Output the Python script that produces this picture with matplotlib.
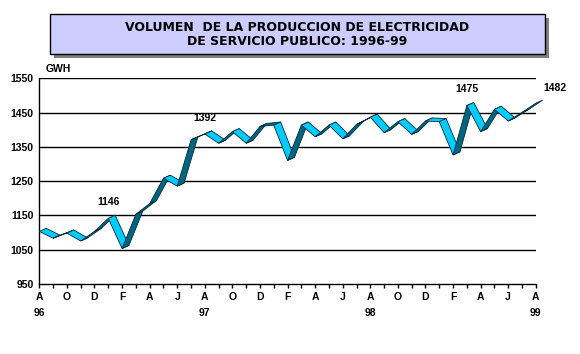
import matplotlib.pyplot as plt
from matplotlib.patches import Rectangle

# datos (GWh), agosto 1996 - agosto 1999
meses = ["A", "O", "D", "F", "A", "J"] * 3 + ["A"]
anios = ["96", "97", "98", "99"]
gwh = [1108, 1088, 1103, 1080, 1108, 1146, 1058, 1158, 1189, 1263, 1240, 1375,
       1392, 1365, 1399, 1365, 1414, 1418, 1315, 1418, 1384, 1418, 1378, 1420,
       1441, 1396, 1428, 1391, 1430, 1428, 1331, 1475, 1399, 1464, 1430, 1455,
       1482]
etiquetados = [5, 12, 31, 36]

plt.rcParams["font.family"] = ["Liberation Sans", "DejaVu Sans"]
plt.rcParams["font.weight"] = "bold"

fig = plt.figure(figsize=(5.8, 3.54), dpi=100)
ax = fig.add_axes([0.0678, 0.1977, 0.856, 0.5811])

x = list(range(len(gwh)))
ax.set_xlim(0, len(gwh) - 1)
ax.set_ylim(950, 1550)

# cinta 3D: desplazamiento de profundidad (en unidades de datos)
dx, dy = 0.5, 9
claro, oscuro = "#00CCFF", "#006680"
for i in range(len(gwh) - 1):
    x0, x1 = x[i], x[i + 1]
    y0, y1 = gwh[i] - dy / 2, gwh[i + 1] - dy / 2
    col = claro if y1 < y0 else oscuro
    ax.fill([x0, x1, x1 + dx, x0 + dx], [y0, y1, y1 + dy, y0 + dy],
            facecolor=col, edgecolor="#002a38", linewidth=0.6,
            clip_on=False, zorder=3)

# rejilla horizontal
for v in range(1050, 1551, 100):
    ax.axhline(v, color="black", linewidth=1.0, zorder=1)

ax.spines["top"].set_visible(False)
ax.spines["right"].set_visible(False)
ax.spines["left"].set_linewidth(1.0)
ax.spines["bottom"].set_linewidth(1.0)

ax.set_yticks(range(950, 1551, 100))
ax.set_yticklabels([str(v) for v in range(950, 1551, 100)], fontsize=7.5,
                   fontweight="bold")
ax.tick_params(axis="y", length=0, pad=4)

ax.set_xticks(x, minor=True)
ax.set_xticks(x[::2])
ax.set_xticklabels(meses, fontsize=7.5, fontweight="bold")
ax.tick_params(axis="x", which="both", length=3, width=1, pad=3)

for k, a in enumerate(anios):
    ax.text(k * 12, -0.139, a, transform=ax.get_xaxis_transform(),
            ha="center", va="center", fontsize=7.5, fontweight="bold")

ax.text(0.012, 1.045, "GWH", transform=ax.transAxes, ha="left", va="center",
        fontsize=7.5, fontweight="bold")

for i in etiquetados:
    if i == len(gwh) - 1:
        off = (14, 6)
    else:
        off = (0, 7)
    ax.annotate(str(gwh[i]), (x[i], gwh[i]), xytext=off,
                textcoords="offset points", ha="center", va="bottom",
                fontsize=7.5, fontweight="bold", annotation_clip=False)

# recuadro del titulo con sombra
fig.patches.append(Rectangle((0.0862 + 0.007, 0.8475 - 0.011), 0.8534, 0.113,
                             transform=fig.transFigure, facecolor="#808080",
                             edgecolor="none", zorder=0))
fig.patches.append(Rectangle((0.0862, 0.8475), 0.8534, 0.113,
                             transform=fig.transFigure, facecolor="#CCCCFF",
                             edgecolor="black", linewidth=1.0, zorder=1))
titulo = ["VOLUMEN  DE LA PRODUCCION DE ELECTRICIDAD",
          "DE SERVICIO PUBLICO: 1996-99"]
fig.text(0.512, 0.9237, titulo[0], ha="center", va="center", fontsize=9,
         fontweight="bold", family="DejaVu Sans")
fig.text(0.512, 0.8825, titulo[1], ha="center", va="center", fontsize=9,
         fontweight="bold", family="DejaVu Sans")

fig.savefig("out.png", dpi=100)
